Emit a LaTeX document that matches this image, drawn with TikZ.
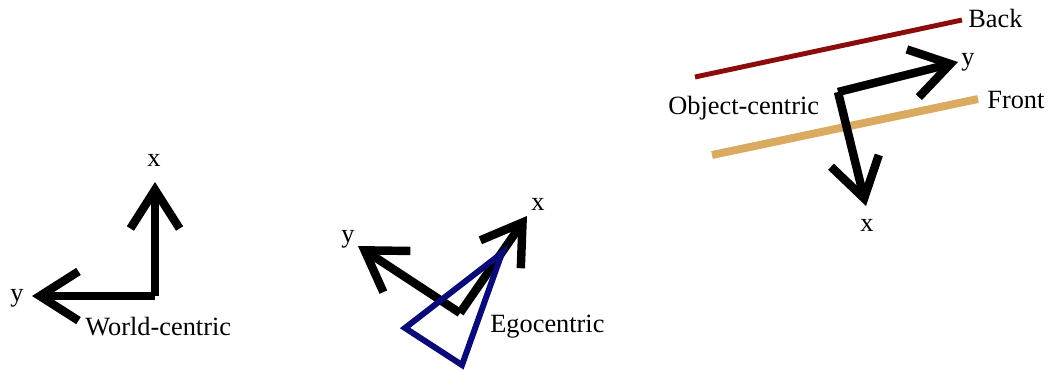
\documentclass[tikz,border=0pt]{standalone}
\usepackage{fontspec}
\setmainfont{Liberation Serif}
\usetikzlibrary{arrows.meta}
\definecolor{backred}{RGB}{140,12,12}
\definecolor{fronttan}{RGB}{218,170,96}
\definecolor{egoblue}{RGB}{10,10,120}
\tikzset{
	axis/.style={line width=4.8pt, line join=miter,
		-{Straight Barb[length=22pt,width=28pt,sharp]}},
	lbl/.style={inner sep=0pt, font=\fontsize{15}{18}\selectfont},
}

\begin{document}
\begin{tikzpicture}[x=0.02cm, y=-0.02cm]
	\useasboundingbox (0,0) rectangle (1049,369);
	% world-centric
	\coordinate (wo) at (155,296);
	\coordinate (wx) at (155,182);
	\coordinate (wy) at (32,296);
	\draw[axis] (wo)--(wx);
	\draw[axis] (wo)--(wy);
	\node[lbl] (wxl) at (154,160) {x};
	\node[lbl] (wyl) at (17,298) {y};
	\node[lbl, anchor=west] (wlab) at (85,327) {World-centric};
	% egocentric
	\coordinate (eo) at (460,313);
	\coordinate (ex) at (527,216);
	\coordinate (ey) at (358,246);
	\draw[axis] (eo)--(ex);
	\draw[axis] (eo)--(ey);
	\draw[egoblue, line width=3.4pt, line join=miter] (502,253)--(405,328)--(462,365)--cycle;
	\node[lbl] (exl) at (538,204) {x};
	\node[lbl] (eyl) at (348,239) {y};
	\node[lbl, anchor=west] (elab) at (490,327) {Egocentric};
	% object-centric
	\draw[backred, line width=2.8pt] (695,77)--(962,20);
	\draw[fronttan, line width=4.5pt] (712,155)--(978,99);
	\coordinate (oo) at (838,92);
	\coordinate (ox) at (866,206);
	\coordinate (oy) at (958,62);
	\draw[axis] (oo)--(ox);
	\draw[axis] (oo)--(oy);
	\node[lbl] (oxl) at (867,225) {x};
	\node[lbl] (oyl) at (968,62) {y};
	\node[lbl, anchor=west] (blab) at (968,18) {Back};
	\node[lbl, anchor=west] (flab) at (987,100) {Front};
	\node[lbl, anchor=west] (olab) at (668,108) {Object-centric};
\end{tikzpicture}
\end{document}
